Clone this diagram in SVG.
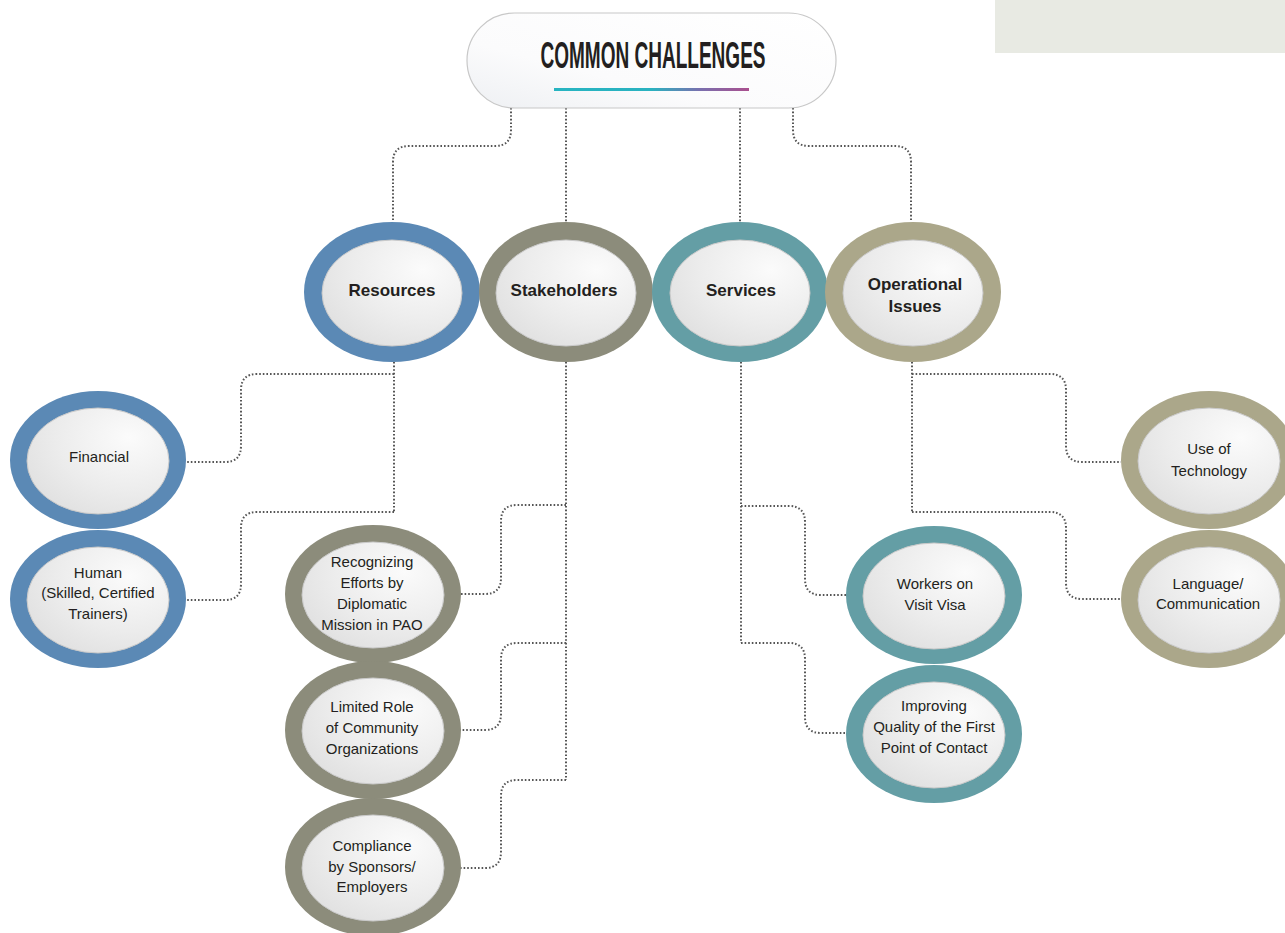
<svg xmlns="http://www.w3.org/2000/svg" width="1285" height="933" viewBox="0 0 1285 933">
<defs>
<linearGradient id="uline" x1="0" y1="0" x2="1" y2="0">
<stop offset="0" stop-color="#27b4c1"/>
<stop offset="0.5" stop-color="#2ab2c0"/>
<stop offset="0.75" stop-color="#7a6fae"/>
<stop offset="1" stop-color="#aa4f8e"/>
</linearGradient>
<linearGradient id="pill" x1="0" y1="1" x2="1" y2="0">
<stop offset="0" stop-color="#eef0f3"/>
<stop offset="0.35" stop-color="#fbfbfc"/>
<stop offset="1" stop-color="#ffffff"/>
</linearGradient>
<radialGradient id="inner" cx="0.72" cy="0.28" r="0.85">
<stop offset="0" stop-color="#fbfbfb"/>
<stop offset="0.6" stop-color="#ececec"/>
<stop offset="1" stop-color="#e0e0e0"/>
</radialGradient>
</defs>
<style>
.conn{fill:none;stroke:#555;stroke-width:2;stroke-dasharray:1.6 2}
.inner{fill:url(#inner);stroke:#c9c9c9;stroke-width:1}
.blue{fill:#5b89b5}
.olive{fill:#8c8c7b}
.teal{fill:#649ea5}
.khaki{fill:#aba78a}
.main{font-family:"Liberation Sans",Arial,sans-serif;font-weight:bold;font-size:17px;fill:#231f20;text-anchor:middle}
.sub{font-family:"Liberation Sans",Arial,sans-serif;font-size:15px;fill:#231f20;text-anchor:middle}
</style>
<rect x="995" y="0" width="290" height="53" fill="#e8eae3"/>
<g id="connectors">
<path class="conn" d="M511,108 V130 Q511,146 495,146 H409 Q393,146 393,162 V222"/>
<path class="conn" d="M566,108 V222"/>
<path class="conn" d="M740,108 V222"/>
<path class="conn" d="M793,108 V130 Q793,146 809,146 H895 Q911,146 911,162 V222"/>
<path class="conn" d="M394,362 V512"/>
<path class="conn" d="M394,374 H257 Q241,374 241,390 V446 Q241,462 225,462 H186"/>
<path class="conn" d="M394,512 H257 Q241,512 241,528 V584 Q241,600 225,600 H186"/>
<path class="conn" d="M566,362 V780"/>
<path class="conn" d="M566,505 H517 Q501,505 501,521 V578 Q501,594 485,594 H460"/>
<path class="conn" d="M566,643 H517 Q501,643 501,659 V714 Q501,730 485,730 H460"/>
<path class="conn" d="M566,780 H517 Q501,780 501,796 V852 Q501,868 485,868 H460"/>
<path class="conn" d="M741,362 V643"/>
<path class="conn" d="M741,506 H789 Q805,506 805,522 V579 Q805,595 821,595 H847"/>
<path class="conn" d="M741,643 H789 Q805,643 805,659 V717 Q805,733 821,733 H847"/>
<path class="conn" d="M912,362 V512"/>
<path class="conn" d="M912,374 H1050 Q1066,374 1066,390 V446 Q1066,462 1082,462 H1121"/>
<path class="conn" d="M912,512 H1050 Q1066,512 1066,528 V583 Q1066,599 1082,599 H1121"/>
</g>
<g id="title">
<rect x="467" y="13" width="369" height="95" rx="47.5" fill="url(#pill)" stroke="#c8c8c8" stroke-width="1.2"/>
<text x="653" y="68" font-family="'Liberation Sans Narrow','Liberation Sans',Arial,sans-serif" font-weight="bold" font-size="36" fill="#231f20" text-anchor="middle" textLength="225" lengthAdjust="spacingAndGlyphs">COMMON CHALLENGES</text>
<rect x="554" y="88" width="195" height="3" fill="url(#uline)"/>
</g>
<g id="resources">
<ellipse class="blue" cx="392" cy="292" rx="88" ry="70"/>
<ellipse class="inner" cx="392" cy="293" rx="70" ry="53"/>
<text class="main" x="392" y="296">Resources</text>
</g>
<g id="stakeholders">
<ellipse class="olive" cx="566" cy="292" rx="87" ry="70"/>
<ellipse class="inner" cx="566" cy="293" rx="70" ry="53"/>
<text class="main" x="564" y="296">Stakeholders</text>
</g>
<g id="services">
<ellipse class="teal" cx="740" cy="292" rx="88" ry="70"/>
<ellipse class="inner" cx="740" cy="293" rx="70" ry="53"/>
<text class="main" x="741" y="296">Services</text>
</g>
<g id="operational">
<ellipse class="khaki" cx="913" cy="292" rx="88" ry="70"/>
<ellipse class="inner" cx="913" cy="293" rx="70" ry="53"/>
<text class="main" x="915" y="290">Operational</text>
<text class="main" x="915" y="312">Issues</text>
</g>
<g id="financial">
<ellipse class="blue" cx="98" cy="460" rx="88" ry="69"/>
<ellipse class="inner" cx="98" cy="461" rx="71" ry="53"/>
<text class="sub" x="99" y="462">Financial</text>
</g>
<g id="human">
<ellipse class="blue" cx="98" cy="599" rx="88" ry="69"/>
<ellipse class="inner" cx="98" cy="600" rx="71" ry="53"/>
<text class="sub" x="98" y="578">Human</text>
<text class="sub" x="98" y="598">(Skilled, Certified</text>
<text class="sub" x="98" y="619">Trainers)</text>
</g>
<g id="recognizing">
<ellipse class="olive" cx="373" cy="594" rx="88" ry="69"/>
<ellipse class="inner" cx="373" cy="595" rx="71" ry="53"/>
<text class="sub" x="372" y="567">Recognizing</text>
<text class="sub" x="372" y="588">Efforts by</text>
<text class="sub" x="372" y="609">Diplomatic</text>
<text class="sub" x="372" y="630">Mission in PAO</text>
</g>
<g id="limited">
<ellipse class="olive" cx="373" cy="730" rx="88" ry="69"/>
<ellipse class="inner" cx="373" cy="731" rx="71" ry="53"/>
<text class="sub" x="372" y="712">Limited Role</text>
<text class="sub" x="372" y="733">of Community</text>
<text class="sub" x="372" y="754">Organizations</text>
</g>
<g id="compliance">
<ellipse class="olive" cx="373" cy="867" rx="88" ry="69"/>
<ellipse class="inner" cx="373" cy="868" rx="71" ry="53"/>
<text class="sub" x="372" y="851">Compliance</text>
<text class="sub" x="372" y="872">by Sponsors/</text>
<text class="sub" x="372" y="892">Employers</text>
</g>
<g id="workers">
<ellipse class="teal" cx="934" cy="595" rx="88" ry="69"/>
<ellipse class="inner" cx="934" cy="596" rx="71" ry="53"/>
<text class="sub" x="935" y="589">Workers on</text>
<text class="sub" x="935" y="610">Visit Visa</text>
</g>
<g id="improving">
<ellipse class="teal" cx="934" cy="734" rx="88" ry="69"/>
<ellipse class="inner" cx="934" cy="735" rx="71" ry="53"/>
<text class="sub" x="934" y="711">Improving</text>
<text class="sub" x="934" y="732">Quality of the First</text>
<text class="sub" x="934" y="753">Point of Contact</text>
</g>
<g id="technology">
<ellipse class="khaki" cx="1209" cy="460" rx="88" ry="69"/>
<ellipse class="inner" cx="1209" cy="461" rx="71" ry="53"/>
<text class="sub" x="1209" y="454">Use of</text>
<text class="sub" x="1209" y="476">Technology</text>
</g>
<g id="language">
<ellipse class="khaki" cx="1209" cy="599" rx="88" ry="69"/>
<ellipse class="inner" cx="1209" cy="600" rx="71" ry="53"/>
<text class="sub" x="1208" y="589">Language/</text>
<text class="sub" x="1208" y="609">Communication</text>
</g>
</svg>
